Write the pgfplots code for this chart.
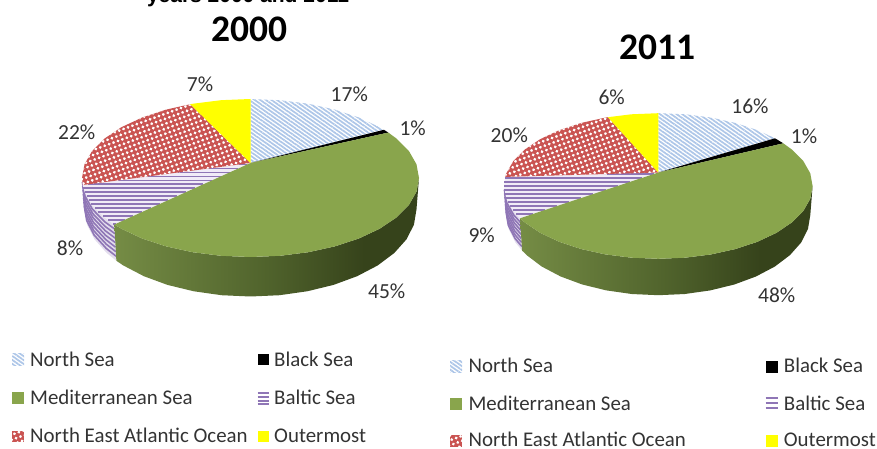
\documentclass[border=0pt]{standalone}
\usepackage{pgfplots}
\pgfplotsset{compat=1.18}
\usepackage{fontspec}
\setmainfont{Carlito}
\newfontfamily\arialb[Scale=1.0]{Liberation Sans}
\usetikzlibrary{patterns.meta}
\definecolor{medgreen}{HTML}{89A54C}
\definecolor{northbl}{HTML}{ADC6E8}
\definecolor{neared}{HTML}{CA5452}
\definecolor{baltic}{HTML}{8F76B6}
\definecolor{balticbg}{HTML}{F1ECF7}
\definecolor{yel}{RGB}{255,255,0}
\definecolor{txt}{HTML}{333333}
\definecolor{sA}{HTML}{758C45}
\definecolor{sB}{HTML}{50632C}
\definecolor{sC}{HTML}{36431B}
\pgfdeclarehorizontalshading{medside}{100bp}{color(0bp)=(sA); color(25bp)=(sA); color(50bp)=(sB); color(66bp)=(sC); color(100bp)=(sC)}
\tikzset{
  northp/.style={draw=none,pattern={Lines[angle=-35,distance=3.2pt,line width=1.7pt]},pattern color=northbl},
  neadots/.style={draw=none,pattern={Dots[radius=1.55pt,distance=4.7pt,angle=20]},pattern color=white},
  stripe/.style={baltic,line width=1.6pt},
  hstripe/.style={baltic,line width=1.7pt,line cap=butt},
  whitebg/.style={draw=none,fill=white},
  pct/.style={font=\fontsize{21.5}{22}\selectfont,text=txt,inner sep=0pt},
  leg/.style={font=\fontsize{20.9}{21}\selectfont,text=txt,inner sep=0pt,anchor=base west},
}
\pgfplotsset{pieaxis/.style={hide axis,scale only axis,clip=false,xmin=-1,xmax=1,ymin=-1,ymax=1,anchor=south west}}
\begin{document}
\begin{tikzpicture}[x=1pt,y=1pt]
\path[use as bounding box] (0,0) rectangle (877,449);
% ---------- Pie 2000
\begin{axis}[pieaxis,at={(82pt,192pt)},width=337pt,height=158pt]
% side Baltic
\addplot[draw=none,fill=baltic!25] coordinates {(-.808,-.589)(-.866,-.5)(-.94,-.342)(-.985,-.174)(-1,0)(-.985,-.4)(-.970,-.591)(-.926,-.776)(-.853,-.95)(-.796,-1.048)} --cycle;
\addplot[stripe] coordinates {(-.806,-.646)(-.864,-.556)(-.938,-.396)(-.983,-.226)(-.998,-.05)};
\addplot[stripe] coordinates {(-.805,-.704)(-.863,-.613)(-.936,-.451)(-.981,-.278)(-.996,-.1)};
\addplot[stripe] coordinates {(-.803,-.761)(-.861,-.669)(-.934,-.505)(-.979,-.331)(-.994,-.15)};
\addplot[stripe] coordinates {(-.802,-.818)(-.860,-.725)(-.933,-.559)(-.978,-.383)(-.9925,-.2)};
\addplot[stripe] coordinates {(-.801,-.876)(-.858,-.781)(-.932,-.613)(-.976,-.435)(-.991,-.25)};
\addplot[stripe] coordinates {(-.799,-.933)(-.856,-.838)(-.930,-.668)(-.974,-.487)(-.989,-.3)};
\addplot[stripe] coordinates {(-.797,-.991)(-.855,-.894)(-.928,-.722)(-.972,-.539)(-.987,-.35)};
% side Mediterranean
\addplot[draw=none,shading=medside] coordinates {(1,0)(.985,-.174)(.94,-.342)(.866,-.5)(.766,-.643)(.643,-.766)(.5,-.866)(.342,-.94)(.174,-.985)(0,-1)(-.174,-.985)(-.342,-.94)(-.5,-.866)(-.643,-.766)(-.766,-.643)(-.808,-.589)(-.796,-1.048)(-.755,-1.107)(-.633,-1.243)(-.493,-1.353)(-.337,-1.434)(-.171,-1.484)(0,-1.5)(.171,-1.484)(.337,-1.434)(.493,-1.353)(.633,-1.243)(.755,-1.107)(.853,-.95)(.926,-.776)(.970,-.591)(.985,-.4)} --cycle;
% top: North Sea
\addplot[whitebg] coordinates {(0,.19)(0,1)(.174,.985)(.342,.94)(.5,.866)(.643,.766)(.766,.643)(.792,.61)} --cycle;
\addplot[northp] coordinates {(0,.19)(0,1)(.174,.985)(.342,.94)(.5,.866)(.643,.766)(.766,.643)(.792,.61)} --cycle;
% Black Sea
\addplot[draw=none,fill=black] coordinates {(0,.19)(.792,.61)(.818,.575)} --cycle;
% Baltic
\addplot[draw=none,fill=balticbg] coordinates {(0,.19)(-.808,-.589)(-.866,-.5)(-.94,-.342)(-.985,-.174)(-.996,-.089)} --cycle;
\addplot[hstripe] coordinates {(-.071,.17)(-.021,.17)};
\addplot[hstripe] coordinates {(-.25,.12)(-.073,.12)};
\addplot[hstripe] coordinates {(-.428,.07)(-.124,.07)};
\addplot[hstripe] coordinates {(-.607,.02)(-.176,.02)};
\addplot[hstripe] coordinates {(-.785,-.03)(-.228,-.03)};
\addplot[hstripe] coordinates {(-.964,-.08)(-.28,-.08)};
\addplot[hstripe] coordinates {(-.992,-.13)(-.332,-.13)};
\addplot[hstripe] coordinates {(-.984,-.18)(-.384,-.18)};
\addplot[hstripe] coordinates {(-.973,-.23)(-.435,-.23)};
\addplot[hstripe] coordinates {(-.96,-.28)(-.487,-.28)};
\addplot[hstripe] coordinates {(-.944,-.33)(-.539,-.33)};
\addplot[hstripe] coordinates {(-.925,-.38)(-.591,-.38)};
\addplot[hstripe] coordinates {(-.903,-.43)(-.643,-.43)};
\addplot[hstripe] coordinates {(-.877,-.48)(-.695,-.48)};
\addplot[hstripe] coordinates {(-.848,-.53)(-.747,-.53)};
\addplot[hstripe] coordinates {(-.815,-.58)(-.799,-.58)};
% Mediterranean
\addplot[draw=none,fill=medgreen] coordinates {(0,.19)(.818,.575)(.866,.5)(.94,.342)(.985,.174)(1,0)(.985,-.174)(.94,-.342)(.866,-.5)(.766,-.643)(.643,-.766)(.5,-.866)(.342,-.94)(.174,-.985)(0,-1)(-.174,-.985)(-.342,-.94)(-.5,-.866)(-.643,-.766)(-.766,-.643)(-.808,-.589)} --cycle;
% North East Atlantic
\addplot[draw=none,fill=neared] coordinates {(0,.19)(-.996,-.089)(-1,0)(-.985,.174)(-.94,.342)(-.866,.5)(-.766,.643)(-.643,.766)(-.5,.866)(-.358,.934)} --cycle;
\addplot[neadots] coordinates {(0,.19)(-.996,-.089)(-1,0)(-.985,.174)(-.94,.342)(-.866,.5)(-.766,.643)(-.643,.766)(-.5,.866)(-.358,.934)} --cycle;
% Outermost
\addplot[draw=none,fill=yel] coordinates {(0,.19)(-.358,.934)(-.342,.94)(-.174,.985)(0,1)} --cycle;
\end{axis}
% ---------- Pie 2011
\begin{axis}[pieaxis,at={(504pt,190.2pt)},width=308.6pt,height=145.6pt]
\addplot[draw=none,fill=baltic!25] coordinates {(-.896,-.443)(-.94,-.342)(-.985,-.174)(-1,0)(-.985,-.4)(-.970,-.591)(-.926,-.776)(-.883,-.887)} --cycle;
\addplot[stripe] coordinates {(-.894,-.499)(-.938,-.396)(-.983,-.226)(-.998,-.05)};
\addplot[stripe] coordinates {(-.892,-.554)(-.936,-.451)(-.981,-.278)(-.996,-.1)};
\addplot[stripe] coordinates {(-.891,-.610)(-.934,-.505)(-.979,-.331)(-.994,-.15)};
\addplot[stripe] coordinates {(-.889,-.665)(-.933,-.559)(-.978,-.383)(-.9925,-.2)};
\addplot[stripe] coordinates {(-.888,-.721)(-.932,-.613)(-.976,-.435)(-.991,-.25)};
\addplot[stripe] coordinates {(-.886,-.776)(-.930,-.668)(-.974,-.487)(-.989,-.3)};
\addplot[stripe] coordinates {(-.884,-.832)(-.928,-.722)(-.972,-.539)(-.987,-.35)};
\addplot[draw=none,shading=medside] coordinates {(1,0)(.985,-.174)(.94,-.342)(.866,-.5)(.766,-.643)(.643,-.766)(.5,-.866)(.342,-.94)(.174,-.985)(0,-1)(-.174,-.985)(-.342,-.94)(-.5,-.866)(-.643,-.766)(-.766,-.643)(-.866,-.5)(-.896,-.443)(-.883,-.887)(-.853,-.95)(-.755,-1.107)(-.633,-1.243)(-.493,-1.353)(-.337,-1.434)(-.171,-1.484)(0,-1.5)(.171,-1.484)(.337,-1.434)(.493,-1.353)(.633,-1.243)(.755,-1.107)(.853,-.95)(.926,-.776)(.970,-.591)(.985,-.4)} --cycle;
\addplot[whitebg] coordinates {(0,.185)(0,1)(.174,.985)(.342,.94)(.5,.866)(.643,.766)(.756,.655)} --cycle;
\addplot[northp] coordinates {(0,.185)(0,1)(.174,.985)(.342,.94)(.5,.866)(.643,.766)(.756,.655)} --cycle;
\addplot[draw=none,fill=black] coordinates {(0,.185)(.756,.655)(.766,.643)(.81,.586)} --cycle;
\addplot[draw=none,fill=balticbg] coordinates {(0,.185)(-.896,-.443)(-.94,-.342)(-.985,-.174)(-1,0)(-.992,.125)} --cycle;
\addplot[hstripe] coordinates {(-.33,.165)(-.029,.165)};
\addplot[hstripe] coordinates {(-.994,.11)(-.107,.11)};
\addplot[hstripe] coordinates {(-.998,.055)(-.186,.055)};
\addplot[hstripe] coordinates {(-1,0)(-.264,0)};
\addplot[hstripe] coordinates {(-.998,-.055)(-.342,-.055)};
\addplot[hstripe] coordinates {(-.994,-.11)(-.421,-.11)};
\addplot[hstripe] coordinates {(-.986,-.165)(-.499,-.165)};
\addplot[hstripe] coordinates {(-.975,-.22)(-.578,-.22)};
\addplot[hstripe] coordinates {(-.961,-.275)(-.656,-.275)};
\addplot[hstripe] coordinates {(-.944,-.33)(-.735,-.33)};
\addplot[hstripe] coordinates {(-.923,-.385)(-.813,-.385)};
\addplot[draw=none,fill=medgreen] coordinates {(0,.185)(.81,.586)(.866,.5)(.94,.342)(.985,.174)(1,0)(.985,-.174)(.94,-.342)(.866,-.5)(.766,-.643)(.643,-.766)(.5,-.866)(.342,-.94)(.174,-.985)(0,-1)(-.174,-.985)(-.342,-.94)(-.5,-.866)(-.643,-.766)(-.766,-.643)(-.866,-.5)(-.896,-.443)} --cycle;
\addplot[draw=none,fill=neared] coordinates {(0,.185)(-.992,.125)(-.985,.174)(-.94,.342)(-.866,.5)(-.766,.643)(-.643,.766)(-.5,.866)(-.342,.94)(-.327,.945)} --cycle;
\addplot[neadots] coordinates {(0,.185)(-.992,.125)(-.985,.174)(-.94,.342)(-.866,.5)(-.766,.643)(-.643,.766)(-.5,.866)(-.342,.94)(-.327,.945)} --cycle;
\addplot[draw=none,fill=yel] coordinates {(0,.185)(-.327,.945)(-.174,.985)(0,1)} --cycle;
\end{axis}
% ---------- Texts and legends in image pixels
\begin{axis}[at={(0pt,0pt)},anchor=south west,scale only axis,width=877pt,height=449pt,hide axis,clip=false,xmin=0,xmax=877,ymin=0,ymax=449,y dir=reverse]
% legend swatches 2000
\addplot[whitebg] coordinates {(12,353)(24,353)(24,365)(12,365)} --cycle;
\addplot[northp] coordinates {(12,353)(24,353)(24,365)(12,365)} --cycle;
\addplot[draw=none,fill=medgreen] coordinates {(12,392)(24,392)(24,404)(12,404)} --cycle;
\addplot[draw=none,fill=neared] coordinates {(12,431)(24,431)(24,442)(12,442)} --cycle;
\addplot[neadots] coordinates {(12,431)(24,431)(24,442)(12,442)} --cycle;
\addplot[draw=none,fill=black] coordinates {(257.5,354)(268.5,354)(268.5,365)(257.5,365)} --cycle;
\addplot[hstripe] coordinates {(257.5,393.3)(268.5,393.3)};
\addplot[hstripe] coordinates {(257.5,397.3)(268.5,397.3)};
\addplot[hstripe] coordinates {(257.5,401)(268.5,401)};
\addplot[hstripe] coordinates {(257.5,404)(268.5,404)};
\addplot[draw=none,fill=yel] coordinates {(257.5,431)(268.5,431)(268.5,442)(257.5,442)} --cycle;
% legend swatches 2011
\addplot[whitebg] coordinates {(450,360.5)(462,360.5)(462,372.5)(450,372.5)} --cycle;
\addplot[northp] coordinates {(450,360.5)(462,360.5)(462,372.5)(450,372.5)} --cycle;
\addplot[draw=none,fill=medgreen] coordinates {(450,398)(462,398)(462,410)(450,410)} --cycle;
\addplot[draw=none,fill=neared] coordinates {(450,435)(462,435)(462,447)(450,447)} --cycle;
\addplot[neadots] coordinates {(450,435)(462,435)(462,447)(450,447)} --cycle;
\addplot[draw=none,fill=black] coordinates {(765.5,360.5)(777.5,360.5)(777.5,372.5)(765.5,372.5)} --cycle;
\addplot[hstripe] coordinates {(765.5,398.3)(777.5,398.3)};
\addplot[hstripe] coordinates {(765.5,403.3)(777.5,403.3)};
\addplot[hstripe] coordinates {(765.5,407.7)(777.5,407.7)};
\addplot[draw=none,fill=yel] coordinates {(765.5,435)(777.5,435)(777.5,447)(765.5,447)} --cycle;
% titles
\node[anchor=base,inner sep=0pt] at (axis cs:248,2.7) {\arialb\bfseries\fontsize{21}{21}\selectfont years 2000 and 2011};
\node[anchor=base,inner sep=0pt] at (axis cs:249.3,41.5) {\bfseries\fontsize{37.5}{38}\selectfont 2000};
\node[anchor=base,inner sep=0pt] at (axis cs:657.3,59.5) {\bfseries\fontsize{37.5}{38}\selectfont 2011};
% percentages
\node[pct] at (axis cs:200,84) {7\%};
\node[pct] at (axis cs:349.3,94.3) {17\%};
\node[pct] at (axis cs:412.7,128.3) {1\%};
\node[pct] at (axis cs:76.7,132.3) {22\%};
\node[pct] at (axis cs:70,248.3) {8\%};
\node[pct] at (axis cs:386.7,291.7) {45\%};
\node[pct] at (axis cs:611.7,97.3) {6\%};
\node[pct] at (axis cs:750,106) {16\%};
\node[pct] at (axis cs:804,136.7) {1\%};
\node[pct] at (axis cs:509.3,135) {20\%};
\node[pct] at (axis cs:481.7,235) {9\%};
\node[pct] at (axis cs:776.7,295.7) {48\%};
% legend text 2000
\node[leg] at (axis cs:30,366) {North Sea};
\node[leg] at (axis cs:30,404.3) {Mediterranean Sea};
\node[leg] at (axis cs:30,442.7) {North East Atlantic Ocean};
\node[leg] at (axis cs:274,366) {Black Sea};
\node[leg] at (axis cs:274,404.3) {Baltic Sea};
\node[leg] at (axis cs:274,442.7) {Outermost};
% legend text 2011
\node[leg] at (axis cs:468.3,372.7) {North Sea};
\node[leg] at (axis cs:468.3,410.3) {Mediterranean Sea};
\node[leg] at (axis cs:468.3,446.3) {North East Atlantic Ocean};
\node[leg] at (axis cs:783.7,372.7) {Black Sea};
\node[leg] at (axis cs:783.7,410.3) {Baltic Sea};
\node[leg] at (axis cs:783.7,446.3) {Outermost};
\end{axis}
\end{tikzpicture}
\end{document}
